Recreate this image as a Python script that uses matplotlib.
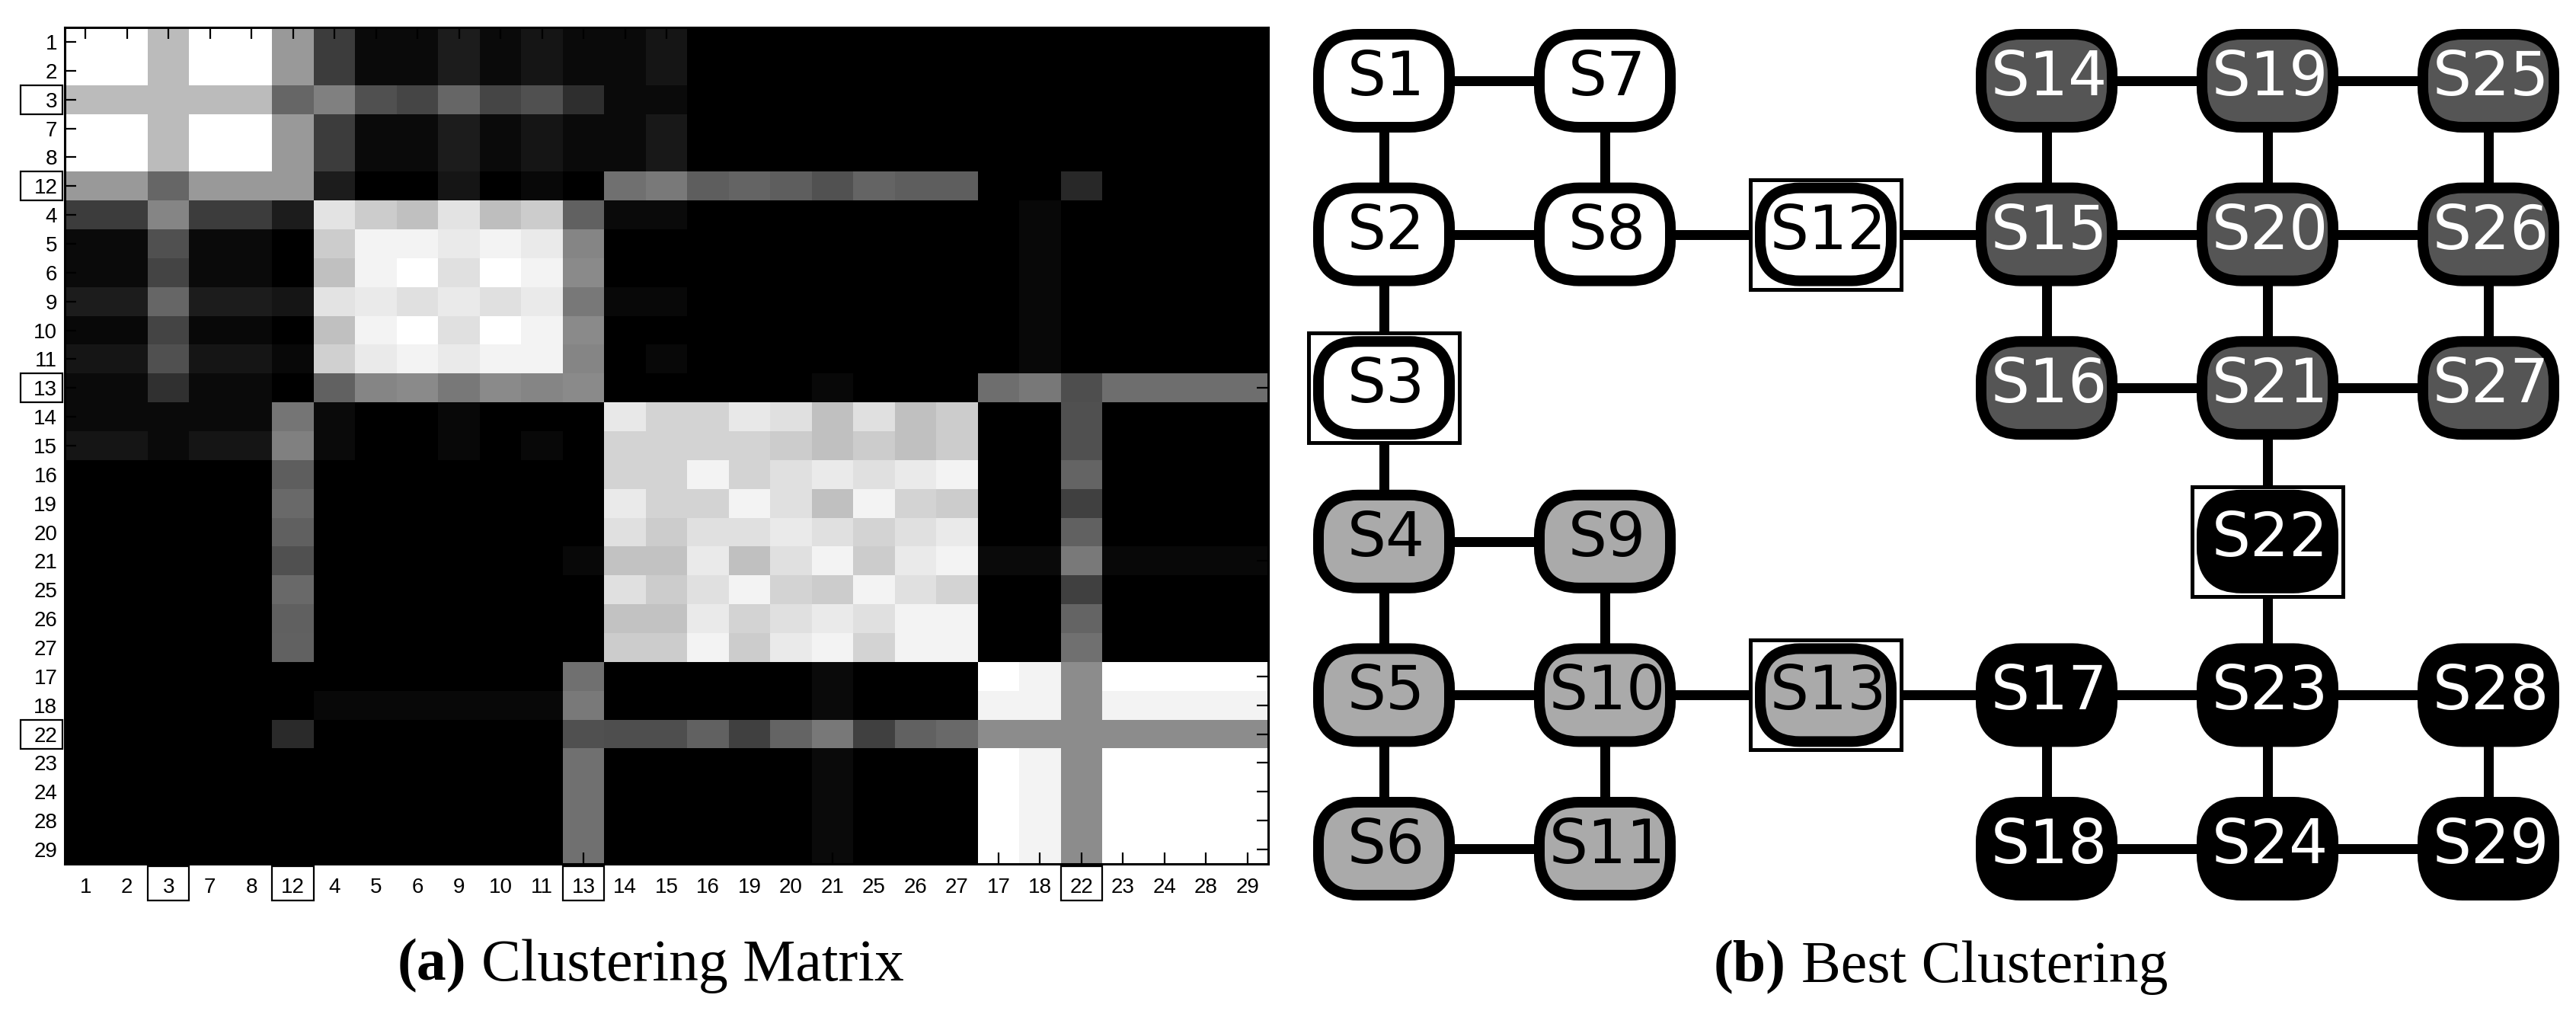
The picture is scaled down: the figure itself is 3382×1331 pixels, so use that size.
import numpy as np
import matplotlib
matplotlib.use('Agg')
import matplotlib.pyplot as plt
from matplotlib.patches import FancyBboxPatch, Rectangle
from matplotlib.offsetbox import TextArea, HPacker, AnnotationBbox

# ---------------- data ----------------
order = [1, 2, 3, 7, 8, 12, 4, 5, 6, 9, 10, 11, 13, 14, 15, 16, 19, 20, 21,
         25, 26, 27, 17, 18, 22, 23, 24, 28, 29]
highlight = [3, 12, 13, 22]

# co-clustering frequency (0..255 gray level), rows/cols follow `order`
row_S1 = [255,255,187,255,255,153, 60,10,10,28,10,21,10, 10,21,0,0,0,0,0,0,0, 0,0,0,0,0,0,0]
row_S2 = [255,255,187,255,255,153, 60,10,10,28,10,21,10, 10,21,0,0,0,0,0,0,0, 0,0,0,0,0,0,0]
row_S3 = [187,187,187,187,187,102, 128,80,69,102,69,80,46, 10,10,0,0,0,0,0,0,0, 0,0,0,0,0,0,0]
row_S7 = [255,255,187,255,255,153, 60,10,10,28,10,21,10, 10,24,0,0,0,0,0,0,0, 0,0,0,0,0,0,0]
row_S8 = [255,255,187,255,255,153, 60,10,10,28,10,21,10, 10,24,0,0,0,0,0,0,0, 0,0,0,0,0,0,0]
row_S12 = [153,153,102,153,153,153, 28,0,0,21,0,8,0, 112,122,94,100,94,82,100,94,94, 0,0,40,0,0,0,0]
row_S4 = [60,60,133,60,60,28, 228,204,192,228,190,204,98, 10,10,0,0,0,0,0,0,0, 0,8,0,0,0,0,0]
row_S5 = [10,10,80,10,10,0, 204,244,244,234,244,234,133, 0,0,0,0,0,0,0,0,0, 0,8,0,0,0,0,0]
row_S6 = [10,10,68,10,10,0, 192,244,255,224,255,244,138, 0,0,0,0,0,0,0,0,0, 0,8,0,0,0,0,0]
row_S9 = [28,28,102,28,28,21, 228,234,224,234,224,234,120, 8,8,0,0,0,0,0,0,0, 0,8,0,0,0,0,0]
row_S10 = [8,8,68,8,8,0, 192,244,255,224,255,244,138, 0,0,0,0,0,0,0,0,0, 0,8,0,0,0,0,0]
row_S11 = [21,21,80,21,21,8, 208,234,244,234,244,244,133, 0,8,0,0,0,0,0,0,0, 0,8,0,0,0,0,0]
row_S13 = [10,10,48,10,10,0, 98,133,138,120,138,133,138, 0,0,0,0,0,8,0,0,0, 110,120,78,110,110,110,110]
row_S14 = [10,10,10,10,10,117, 10,0,0,8,0,0,0, 232,212,212,232,224,192,224,192,204, 0,0,80,0,0,0,0]
row_S15 = [21,21,10,21,21,128, 10,0,0,8,0,8,0, 212,212,212,212,204,192,204,192,204, 0,0,80,0,0,0,0]
row_S16 = [0,0,0,0,0,94, 0,0,0,0,0,0,0, 212,212,244,212,224,234,224,234,244, 0,0,100,0,0,0,0]
row_S19 = [0,0,0,0,0,106, 0,0,0,0,0,0,0, 234,212,212,244,224,192,244,212,204, 0,0,64,0,0,0,0]
row_S20 = [0,0,0,0,0,96, 0,0,0,0,0,0,0, 224,204,224,224,234,224,212,224,234, 0,0,98,0,0,0,0]
row_S21 = [0,0,0,0,0,80, 0,0,0,0,0,0,8, 194,194,234,192,224,244,204,234,244, 10,10,122,8,8,8,8]
row_S25 = [0,0,0,0,0,106, 0,0,0,0,0,0,0, 224,204,224,244,212,204,244,224,212, 0,0,64,0,0,0,0]
row_S26 = [0,0,0,0,0,96, 0,0,0,0,0,0,0, 194,194,234,212,224,234,224,244,244, 0,0,100,0,0,0,0]
row_S27 = [0,0,0,0,0,98, 0,0,0,0,0,0,0, 204,204,244,204,234,244,212,244,244, 0,0,112,0,0,0,0]
row_S17 = [0,0,0,0,0,0, 0,0,0,0,0,0,112, 0,0,0,0,0,10,0,0,0, 255,244,140,255,255,255,255]
row_S18 = [0,0,0,0,0,0, 8,8,8,8,8,8,122, 0,0,0,0,0,10,0,0,0, 244,244,140,244,244,244,244]
row_S22 = [0,0,0,0,0,42, 0,0,0,0,0,0,80, 78,78,98,64,100,120,64,98,106, 140,140,140,140,140,140,140]
row_S23 = [0,0,0,0,0,0, 0,0,0,0,0,0,112, 0,0,0,0,0,10,0,0,0, 255,244,140,255,255,255,255]
row_S24 = [0,0,0,0,0,0, 0,0,0,0,0,0,112, 0,0,0,0,0,10,0,0,0, 255,244,140,255,255,255,255]
row_S28 = [0,0,0,0,0,0, 0,0,0,0,0,0,112, 0,0,0,0,0,10,0,0,0, 255,244,140,255,255,255,255]
row_S29 = [0,0,0,0,0,0, 0,0,0,0,0,0,112, 0,0,0,0,0,10,0,0,0, 255,244,140,255,255,255,255]

matrix_rows = [row_S1, row_S2, row_S3, row_S7, row_S8, row_S12, row_S4, row_S5,
               row_S6, row_S9, row_S10, row_S11, row_S13, row_S14, row_S15,
               row_S16, row_S19, row_S20, row_S21, row_S25, row_S26, row_S27,
               row_S17, row_S18, row_S22, row_S23, row_S24, row_S28, row_S29]

# graph: node name, grid column, grid row, cluster id
node_names = ['S1', 'S7', 'S14', 'S19', 'S25',
              'S2', 'S8', 'S12', 'S15', 'S20', 'S26',
              'S3', 'S16', 'S21', 'S27',
              'S4', 'S9', 'S22',
              'S5', 'S10', 'S13', 'S17', 'S23', 'S28',
              'S6', 'S11', 'S18', 'S24', 'S29']
node_cols = [0, 1, 3, 4, 5,
             0, 1, 2, 3, 4, 5,
             0, 3, 4, 5,
             0, 1, 4,
             0, 1, 2, 3, 4, 5,
             0, 1, 3, 4, 5]
node_rows = [0, 0, 0, 0, 0,
             1, 1, 1, 1, 1, 1,
             2, 2, 2, 2,
             3, 3, 3,
             4, 4, 4, 4, 4, 4,
             5, 5, 5, 5, 5]
node_cluster = [0, 0, 2, 2, 2,
                0, 0, 0, 2, 2, 2,
                0, 2, 2, 2,
                1, 1, 3,
                1, 1, 1, 3, 3, 3,
                1, 1, 3, 3, 3]
edges = [('S1', 'S7'), ('S1', 'S2'), ('S7', 'S8'), ('S2', 'S8'), ('S8', 'S12'),
         ('S12', 'S15'), ('S2', 'S3'), ('S3', 'S4'), ('S4', 'S9'), ('S4', 'S5'),
         ('S9', 'S10'), ('S5', 'S10'), ('S5', 'S6'), ('S10', 'S11'), ('S6', 'S11'),
         ('S10', 'S13'), ('S13', 'S17'), ('S17', 'S23'), ('S23', 'S28'),
         ('S17', 'S18'), ('S23', 'S24'), ('S28', 'S29'), ('S18', 'S24'),
         ('S24', 'S29'), ('S22', 'S23'), ('S21', 'S22'), ('S14', 'S19'),
         ('S19', 'S25'), ('S14', 'S15'), ('S19', 'S20'), ('S25', 'S26'),
         ('S15', 'S20'), ('S20', 'S26'), ('S15', 'S16'), ('S20', 'S21'),
         ('S26', 'S27'), ('S16', 'S21'), ('S21', 'S27')]
boxed_nodes = ['S3', 'S12', 'S13', 'S22']

cluster_fill = ['#ffffff', '#aaaaaa', '#555555', '#000000']
cluster_text = ['black', 'black', 'white', 'white']

caption_a = ('(a)', 'Clustering Matrix')
caption_b = ('(b)', 'Best Clustering')

# ---------------- figure ----------------
W, H = 3382, 1331
fig = plt.figure(figsize=(W / 100, H / 100), dpi=100)

# ---- panel (a): clustering matrix ----
M = np.array(matrix_rows, dtype=float) / 255.0
n = len(order)
ax = fig.add_axes([85 / W, 1 - 1134 / H, (1665 - 85) / W, (1134 - 36) / H])
ax.imshow(M, cmap='gray', vmin=0, vmax=1, interpolation='nearest', aspect='auto')
ax.set_xticks(range(n))
ax.set_xticklabels([str(v) for v in order])
ax.set_yticks(range(n))
ax.set_yticklabels([str(v) for v in order])
ax.tick_params(axis='both', direction='in', length=11, width=1.6, labelsize=20,
               top=True, right=True, colors='black')
ax.tick_params(axis='x', pad=13)
ax.tick_params(axis='y', pad=7)
for lab in ax.get_xticklabels() + ax.get_yticklabels():
    lab.set_fontfamily(['Liberation Sans', 'DejaVu Sans'])
for sp in ax.spines.values():
    sp.set_linewidth(2.2)

for v in highlight:
    i = order.index(v)
    ax.add_patch(Rectangle((i - 0.5, -0.0437), 1.0, 0.041,
                           transform=ax.get_xaxis_transform(), clip_on=False,
                           fill=False, edgecolor='black', lw=1.6))
    ax.add_patch(Rectangle((-0.0367, i - 0.5), 0.0348, 1.0,
                           transform=ax.get_yaxis_transform(), clip_on=False,
                           fill=False, edgecolor='black', lw=1.6))

# ---- panel (b): best clustering graph (pixel coordinates) ----
gax = fig.add_axes([0, 0, 1, 1])
gax.set_xlim(0, W)
gax.set_ylim(H, 0)
gax.axis('off')

X0, DX, Y0, DY = 1817, 290, 106, 201.6
NW, NH, BORDER = 186, 136, 14
pos = {nm: (X0 + DX * c, Y0 + DY * r) for nm, c, r in zip(node_names, node_cols, node_rows)}

for a, b in edges:
    (x1, y1), (x2, y2) = pos[a], pos[b]
    gax.plot([x1, x2], [y1, y2], color='black', lw=13 * 0.72,
             solid_capstyle='butt', zorder=1)

for nm in boxed_nodes:
    x, y = pos[nm]
    gax.add_patch(Rectangle((x - 99, y - 72), 198, 144, facecolor='white',
                            edgecolor='black', lw=5 * 0.72, zorder=2))

for nm, cl in zip(node_names, node_cluster):
    x, y = pos[nm]
    w, h = NW - BORDER, NH - BORDER
    gax.add_patch(FancyBboxPatch((x - w / 2, y - h / 2), w, h,
                                 boxstyle="round,pad=0,rounding_size=52",
                                 facecolor=cluster_fill[cl], edgecolor='black',
                                 lw=BORDER * 0.72, zorder=3))
    gax.text(x + 3, y - 3, nm, ha='center', va='center', fontsize=58,
             color=cluster_text[cl], zorder=4,
             family=['DejaVu Sans Condensed', 'DejaVu Sans'])

# ---- captions ----
def caption(parts, xc, yc):
    props = dict(fontsize=56, family=['Liberation Serif', 'DejaVu Serif'])
    t1 = TextArea(parts[0], textprops=dict(fontweight='bold', **props))
    t2 = TextArea(parts[1], textprops=dict(**props))
    pk = HPacker(children=[t1, t2], sep=14, pad=0, align='baseline')
    ab = AnnotationBbox(pk, (xc / W, 1 - yc / H), xycoords='figure fraction',
                        frameon=False, box_alignment=(0.5, 0.5), pad=0)
    gax.add_artist(ab)

caption(caption_a, 854, 1268)
caption(caption_b, 2548, 1270)

fig.savefig('out.png', dpi=100)
